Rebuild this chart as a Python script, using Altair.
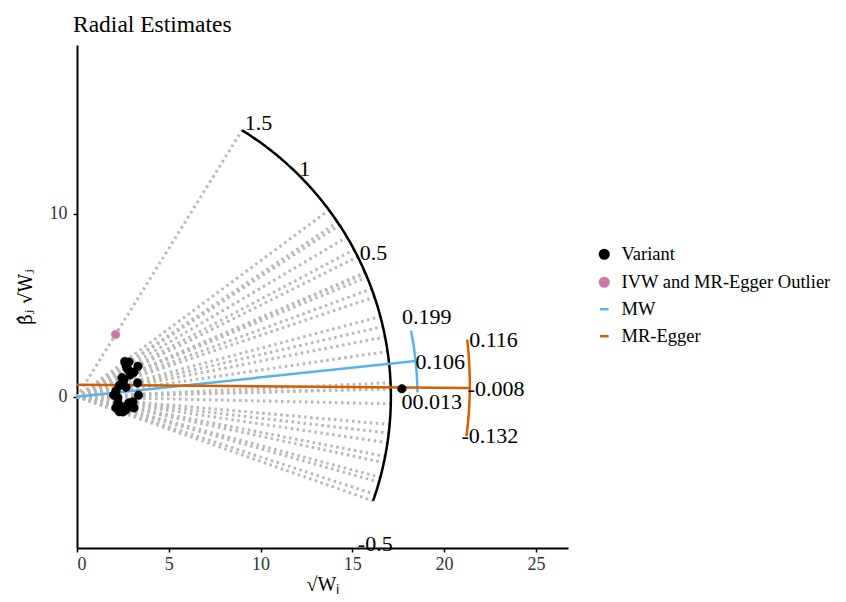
import math
import altair as alt
import pandas as pd
import numpy as np

# ---------------- data ----------------
# variants: sqrt(W_j) and beta_j * sqrt(W_j)
variant_x = [2.60, 2.67, 2.83, 2.78, 3.32, 3.10, 2.56, 2.50, 2.30, 3.30, 2.67, 2.12,
             2.00, 3.35, 17.70, 2.23, 2.83, 3.05, 3.10, 2.56, 2.67, 2.12, 2.50, 2.30,
             2.23, 2.70, 2.45, 2.90]
variant_y = [1.93, 1.75, 1.90, 1.48, 1.66, 1.34, 0.94, 0.84, 0.61, 0.76, 0.52, 0.31,
             0.09, 0.09, 0.44, -0.05, -0.33, -0.27, -0.60, -0.55, -0.71, -0.60, -0.82,
             -0.81, -0.33, 1.60, 1.05, 1.20]
outlier_x = [2.10]
outlier_y = [3.40]

scale_ticks = [1.5, 1, 0.5, 0, -0.5]
scale_labels = ["1.5", "1", "0.5", "0", "-0.5"]

mw_est, mw_lo, mw_hi = 0.106, 0.013, 0.199
egger_intercept = 0.656
egger_est, egger_lo, egger_hi = -0.008, -0.132, 0.116

legend_names = ["Variant", "IVW and MR-Egger Outlier", "MW", "MR-Egger"]
legend_colors = ["#000000", "#CC79A7", "#56B4E9", "#D55E00"]

x_ticks = [0, 5, 10, 15, 20, 25]
y_ticks = [0, 10]

# ---------------- geometry (radii of the drawn circles) ----------------
R_MAIN = 17.1
R_LAB = 17.35
R_MW = 18.55
R_EGGER = 21.4

FONT = "Liberation Serif"
LBL = 22

all_x = variant_x + outlier_x
all_y = variant_y + outlier_y
theta = [math.atan2(y, x) for x, y in zip(all_x, all_y)]

rays = pd.DataFrame({
    "x": 0.0, "y": 0.0,
    "x2": [R_MAIN * math.cos(t) for t in theta],
    "y2": [R_MAIN * math.sin(t) for t in theta],
})

tt = np.linspace(min(theta), max(theta), 200)
main_arc = pd.DataFrame({"x": R_MAIN * np.cos(tt), "y": R_MAIN * np.sin(tt), "o": range(len(tt))})

tb = np.linspace(math.atan(mw_lo), math.atan(mw_hi), 60)
mw_arc = pd.DataFrame({"x": R_MW * np.cos(tb), "y": R_MW * np.sin(tb), "o": range(len(tb))})
te = np.linspace(math.atan(egger_lo), math.atan(egger_hi), 60)
eg_arc = pd.DataFrame({"x": R_EGGER * np.cos(te), "y": egger_intercept + R_EGGER * np.sin(te),
                       "o": range(len(te))})

a_mw = math.atan(mw_est)
mw_line = pd.DataFrame({"x": [0.0], "y": [0.0], "x2": [R_MW * math.cos(a_mw)], "y2": [R_MW * math.sin(a_mw)]})
a_eg = math.atan(egger_est)
eg_line = pd.DataFrame({"x": [0.0], "y": [egger_intercept],
                        "x2": [R_EGGER * math.cos(a_eg)], "y2": [egger_intercept + R_EGGER * math.sin(a_eg)]})

pts = pd.DataFrame({
    "x": variant_x + outlier_x,
    "y": variant_y + outlier_y,
    "cat": ["Variant"] * len(variant_x) + ["IVW and MR-Egger Outlier"] * len(outlier_x),
})

xs = alt.Scale(domain=[0, 26.75], nice=False, zero=False)
ys = alt.Scale(domain=[-8.25, 19.2], nice=False, zero=False)

AX_COMMON = dict(grid=False, domainColor="black", domainWidth=2, tickColor="black", tickWidth=1.5,
                 tickSize=4, labelFont=FONT, labelFontSize=18, labelColor="#333333",
                 titleFontWeight="normal", titleColor="black")

X = lambda f="x": alt.X(f"{f}:Q", scale=xs, axis=alt.Axis(
    values=x_ticks, title="√Wⱼ", labelPadding=3, titleFont=FONT, titleFontSize=20,
    titlePadding=1, **AX_COMMON))
Y = lambda f="y": alt.Y(f"{f}:Q", scale=ys, axis=alt.Axis(
    values=y_ticks, title="β̂ⱼ √Wⱼ", labelPadding=6, titleFont="DejaVu Serif",
    titleFontSize=18, titlePadding=14, **AX_COMMON))

ray_layer = alt.Chart(rays).mark_rule(color="#B8B8B8", strokeWidth=3, strokeDash=[2.5, 3.5]).encode(
    x=X(), y=Y(), x2="x2:Q", y2="y2:Q")

arc_layer = alt.Chart(main_arc).mark_line(color="black", strokeWidth=2.5).encode(
    x=X(), y=Y(), order="o:Q")

mw_line_layer = alt.Chart(mw_line).mark_rule(color=legend_colors[2], strokeWidth=2.5).encode(
    x=X(), y=Y(), x2="x2:Q", y2="y2:Q")
mw_arc_layer = alt.Chart(mw_arc).mark_line(color=legend_colors[2], strokeWidth=2.5).encode(
    x=X(), y=Y(), order="o:Q")
eg_line_layer = alt.Chart(eg_line).mark_rule(color=legend_colors[3], strokeWidth=2.5).encode(
    x=X(), y=Y(), x2="x2:Q", y2="y2:Q")
eg_arc_layer = alt.Chart(eg_arc).mark_line(color=legend_colors[3], strokeWidth=2.5).encode(
    x=X(), y=Y(), order="o:Q")

legend = alt.Legend(title=None, orient="none", legendX=518, legendY=200,
                    labelFont=FONT, labelFontSize=18.5, labelColor="black", labelLimit=400,
                    rowPadding=8, labelOffset=8, symbolStrokeWidth=2.5)
point_layer = alt.Chart(pts).mark_point(filled=True, opacity=1, strokeWidth=0.5).encode(
    x=X(), y=Y(),
    fill=alt.Fill("cat:N", scale=alt.Scale(domain=legend_names, range=legend_colors), legend=legend),
    stroke=alt.Stroke("cat:N", scale=alt.Scale(domain=legend_names, range=legend_colors), legend=legend),
    shape=alt.Shape("cat:N", scale=alt.Scale(domain=legend_names,
                    range=["circle", "circle", "stroke", "stroke"]), legend=legend),
    size=alt.Size("cat:N", scale=alt.Scale(domain=legend_names, range=[75, 75, 484, 484]), legend=legend),
)


def label_layer(vals, texts, radius, cy, baseline, dx, dy):
    df = pd.DataFrame({
        "x": [radius * math.cos(math.atan(v)) for v in vals],
        "y": [cy + radius * math.sin(math.atan(v)) for v in vals],
        "t": texts,
    })
    return alt.Chart(df).mark_text(align="left", baseline=baseline, dx=dx, dy=dy,
                                   font=FONT, fontSize=LBL, color="black").encode(
        x=X(), y=Y(), text="t:N")


scale_text = [
    label_layer([scale_ticks[0]], [scale_labels[0]], R_LAB, 0, "middle", -9, -9),
    label_layer([scale_ticks[1]], [scale_labels[1]], R_LAB, 0, "middle", -3, -3),
    label_layer([scale_ticks[2]], [scale_labels[2]], R_LAB, 0, "middle", -2, -2),
    label_layer([scale_ticks[3]], [scale_labels[3]], R_LAB, 0, "middle", 6, 5),
    label_layer([scale_ticks[4]], [scale_labels[4]], R_LAB, 0, "middle", -4, 5),
]
mw_text = [
    label_layer([mw_hi], [f"{mw_hi:.3f}"], R_MW, 0, "bottom", -9, -1),
    label_layer([mw_est], [f"{mw_est:.3f}"], R_MW, 0, "middle", 0, 1),
    label_layer([mw_lo], [f"{mw_lo:.3f}"], R_MW, 0, "top", -5, 0),
]
eg_text = [
    label_layer([egger_hi], [f"{egger_hi:.3f}"], R_EGGER, egger_intercept, "top", 2, -10),
    label_layer([egger_est], [f"{egger_est:.3f}"], R_EGGER, egger_intercept, "middle", -2, 1),
    label_layer([egger_lo], [f"{egger_lo:.3f}"], R_EGGER, egger_intercept, "middle", -5, 0),
]

chart = alt.layer(
    ray_layer, arc_layer, mw_line_layer, mw_arc_layer, eg_line_layer, eg_arc_layer,
    point_layer, *scale_text, *mw_text, *eg_text,
).properties(
    width=491, height=503,
    title=alt.TitleParams("Radial Estimates", anchor="start", frame="group", font=FONT, fontSize=23.5,
                          fontWeight="normal", color="black", dx=-4, offset=9),
    autosize=alt.AutoSizeParams(type="none"),
    padding={"left": 69, "top": 37, "right": 270, "bottom": 46},
).configure_view(stroke=None)

chart.save("out.html", embed_options={"renderer": "svg", "actions": False})
